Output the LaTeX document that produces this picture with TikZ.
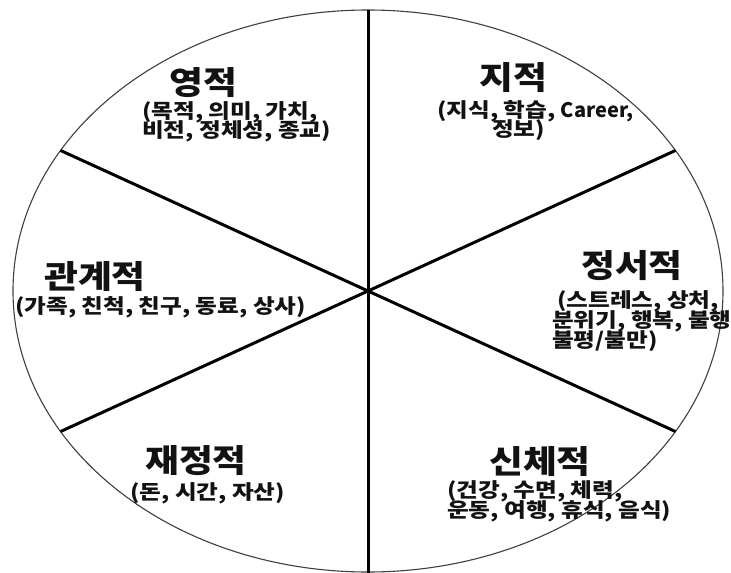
\documentclass[tikz,border=0pt]{standalone}
\usepackage{fontspec}
\newfontfamily\krT{Noto Sans CJK KR}[FakeStretch=1.15]
\newfontfamily\krS{Noto Sans CJK KR}[FakeStretch=1.18]
\newfontfamily\krL{Noto Sans CJK KR}
\begin{document}
\begin{tikzpicture}[x=1pt,y=-1pt,
  rim/.style={draw=black!75, line width=1.1pt},
  spoke/.style={draw=black, line width=3pt},
  ttl/.style={font=\krT\bfseries\fontsize{32}{32}\selectfont, text=black!93, inner sep=0pt, text height=25.6pt, text depth=2.6pt},
  sub/.style={font=\krS\bfseries\fontsize{20}{20}\selectfont, text=black!93, inner sep=0pt, text height=16pt, text depth=1.6pt, anchor=west}]
\useasboundingbox (0,0) rectangle (731,573);
\fill[white] (0,0) rectangle (731,573);
\coordinate (c) at (368,291);
\coordinate (p90) at (368,10);
\coordinate (p270) at (368,573);
\coordinate (p30) at (675.4,150.5);
\coordinate (p150) at (60.6,150.5);
\coordinate (p210) at (60.6,431.5);
\coordinate (p330) at (675.4,431.5);
\draw[rim] (c) ellipse [x radius=355pt, y radius=281pt];
\draw[spoke] (p90) -- (p270);
\draw[spoke] (p150) -- (p330);
\draw[spoke] (p30) -- (p210);
% 영적
\node[ttl] (t1) at (203,83) {영적};
\node[sub] (s1a) at (142,111) {(목적, 의미, 가치,};
\node[sub] (s1b) at (142,130) {비전, 정체성, 종교)};
% 지적
\node[ttl] (t2) at (513,78) {지적};
\node[sub] (s2a) at (437,110) {(지식, 학습, {\krL\bfseries\fontsize{20}{20}\selectfont Career,}};
\node[sub] (s2b) at (492,129) {정보)};
% 관계적
\node[ttl] (t3) at (95,277) {관계적};
\node[sub] (s3a) at (15,306) {(가족, 친척, 친구, 동료, 상사)};
% 정서적
\node[ttl] (t4) at (632,266) {정서적};
\node[sub] (s4a) at (557,300) {(스트레스, 상처,};
\node[sub] (s4b) at (552,320) {분위기, 행복, 불행};
\node[sub] (s4c) at (552,340) {불평/불만)};
% 재정적
\node[ttl] (t5) at (196,461) {재정적};
\node[sub] (s5a) at (130,492) {(돈, 시간, 자산)};
% 신체적
\node[ttl] (t6) at (540,462) {신체적};
\node[sub] (s6a) at (447,490) {(건강, 수면, 체력,};
\node[sub] (s6b) at (447,510) {운동, 여행, 휴식, 음식)};
\end{tikzpicture}
\end{document}
